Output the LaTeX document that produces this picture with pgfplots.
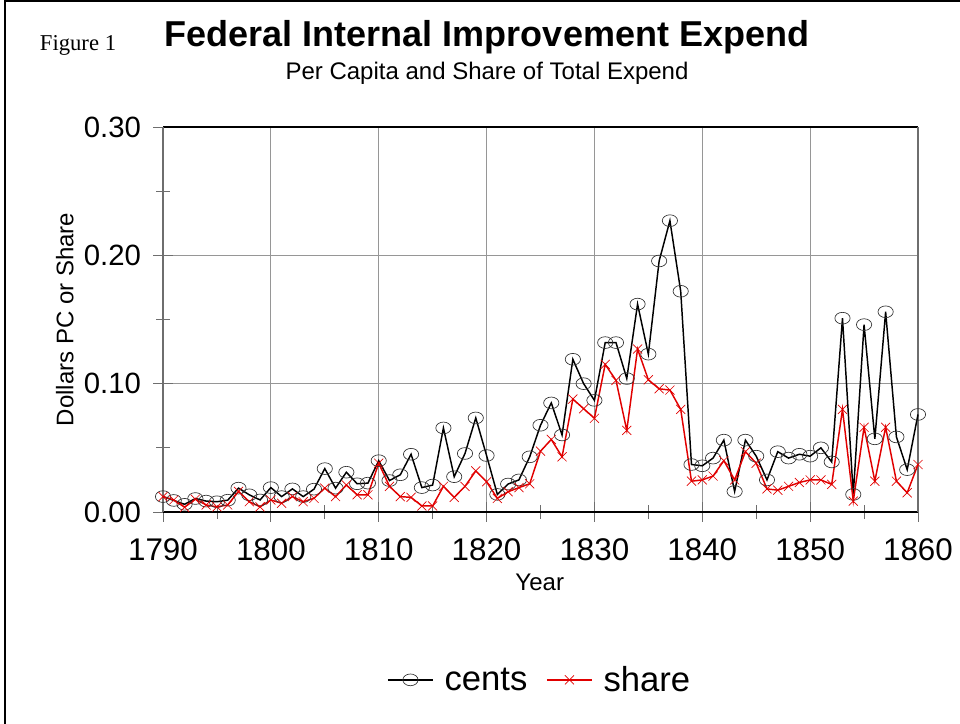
\documentclass[border=0pt]{standalone}
\usepackage{fontspec}
\setmainfont{Liberation Sans}
\newfontfamily\timesfont{Liberation Serif}
\usepackage{pgfplots}
\pgfplotsset{compat=1.18}
\definecolor{gridgray}{RGB}{150,150,150}
\definecolor{axgray}{RGB}{110,110,110}
\definecolor{myred}{RGB}{225,0,0}

\pgfplotstableread{
year cents share
1790 0.012 0.012
1791 0.009 0.0094
1792 0.006 0.0037
1793 0.0105 0.010
1794 0.0085 0.0055
1795 0.008 0.004
1796 0.0092 0.0055
1797 0.0186 0.016
1798 0.0134 0.008
1799 0.0094 0.004
1800 0.019 0.0094
1801 0.012 0.0068
1802 0.018 0.012
1803 0.012 0.008
1804 0.0178 0.0107
1805 0.0338 0.0186
1806 0.0186 0.012
1807 0.031 0.021
1808 0.022 0.0134
1809 0.0225 0.0134
1810 0.040 0.038
1811 0.0245 0.020
1812 0.029 0.012
1813 0.045 0.0114
1814 0.019 0.0047
1815 0.021 0.0047
1816 0.0655 0.020
1817 0.0275 0.0114
1818 0.0456 0.020
1819 0.0733 0.032
1820 0.044 0.0236
1821 0.0137 0.0106
1822 0.0218 0.0158
1823 0.025 0.019
1824 0.043 0.022
1825 0.0676 0.0474
1826 0.085 0.0565
1827 0.060 0.043
1828 0.119 0.088
1829 0.100 0.0805
1830 0.087 0.073
1831 0.132 0.115
1832 0.132 0.1026
1833 0.104 0.0636
1834 0.162 0.127
1835 0.123 0.103
1836 0.1956 0.096
1837 0.227 0.095
1838 0.172 0.080
1839 0.037 0.024
1840 0.036 0.025
1841 0.042 0.028
1842 0.056 0.040
1843 0.016 0.025
1844 0.056 0.047
1845 0.0435 0.038
1846 0.025 0.018
1847 0.047 0.017
1848 0.042 0.020
1849 0.045 0.023
1850 0.0435 0.025
1851 0.050 0.025
1852 0.039 0.0215
1853 0.151 0.080
1854 0.0137 0.0085
1855 0.146 0.066
1856 0.057 0.024
1857 0.156 0.066
1858 0.0585 0.024
1859 0.033 0.015
1860 0.076 0.037
}\datatable

\begin{document}
\begin{tikzpicture}[x=1pt,y=1pt]
\path[use as bounding box] (0,0) rectangle (720,543);
\draw[line width=1.4pt] (4,0) -- (4,542.3) -- (720,542.3);
\node[font=\fontsize{27}{32}\selectfont\bfseries] at (365.25,515.25) {Federal Internal Improvement Expend};
\node[font=\fontsize{18}{22}\selectfont] at (365.25,488.25) {Per Capita and Share of Total Expend};
\node[font=\timesfont\fontsize{17}{20}\selectfont] at (58.5,509.25) {Figure 1};
\begin{axis}[
  at={(122.25pt,159pt)}, anchor=south west,
  scale only axis, width=566.25pt, height=288.75pt,
  xmin=1790, xmax=1860, ymin=0, ymax=0.30,
  xtick={1790,1800,...,1860},
  minor xtick={1795,1805,...,1855},
  ytick={0,0.1,0.2,0.3},
  minor ytick={0.05,0.15,0.25},
  tick pos=left,
  tick align=center,
  major tick length=15pt,
  minor tick length=10pt,
  every tick/.style={axgray, line width=0.6pt},
  grid=major,
  major grid style={gridgray, line width=0.75pt},
  separate axis lines,
  x axis line style={black, line width=1pt},
  y axis line style={axgray, line width=1pt},
  clip=false,
  /pgf/number format/assume math mode=true,
  x tick label style={/pgf/number format/1000 sep={}, font=\fontsize{23.5}{28}\selectfont, yshift=-9pt},
  y tick label style={/pgf/number format/.cd, fixed, fixed zerofill, precision=2, /tikz/.cd, font=\fontsize{22}{26}\selectfont, xshift=-5.5pt},
  scaled y ticks=false,
  xlabel={Year},
  xlabel style={at={(axis description cs:0.499,-0.182)}, anchor=center, font=\fontsize{18}{22}\selectfont},
  ylabel={Dollars PC or Share},
  ylabel style={at={(axis description cs:-0.130,0.5)}, anchor=center, font=\fontsize{18}{22}\selectfont},
  legend columns=2,
  legend style={at={(axis description cs:0.4993,-0.436)}, anchor=center, draw=none, fill=none,
    font=\fontsize{26}{30}\selectfont,
    /tikz/every even column/.append style={column sep=12pt},
    /tikz/every odd column/.append style={column sep=6pt}},
  legend image code/.code={\draw[mark repeat=2,mark phase=2,#1] plot coordinates {(0pt,0pt) (17pt,0pt) (34pt,0pt)};},
]
\addplot[black, line width=1.1pt, mark=o, mark size=4.4pt,
  mark options={xscale=1.3, line width=0.5pt, draw=black!80, solid}] table[x=year, y=cents] {\datatable};
\addlegendentry{cents}
\addplot[myred, line width=1.1pt, mark=x, mark size=4.8pt,
  mark options={line width=0.5pt, solid}] table[x=year, y=share] {\datatable};
\addlegendentry{share}
\end{axis}
\end{tikzpicture}
\end{document}
